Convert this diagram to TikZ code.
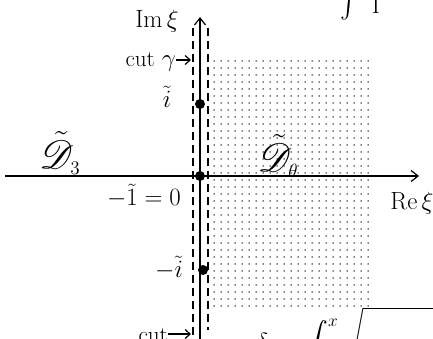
\documentclass[tikz,border=0pt]{standalone}
\usepackage{amsmath,mathrsfs}
\usetikzlibrary{patterns.meta,arrows.meta}
\begin{document}
\begin{tikzpicture}[x=1pt,y=-1pt,
  every node/.style={font=\fontsize{23}{25}\selectfont, inner sep=0pt},
  axis/.style={line width=1.5pt},
  cutline/.style={line width=1.1pt, dash pattern=on 8pt off 5pt},
  pt/.style={circle, fill=black, minimum size=10pt},
  tip/.style={-{Straight Barb[length=7pt,width=11pt,line width=1.2pt]}},
  smalltip/.style={line width=1.2pt,-{Straight Barb[length=5pt,width=9pt]}}]
\useasboundingbox (0,0) rectangle (433,338);
\clip (0,0) rectangle (433,338);
% shaded region
\fill[pattern={Dots[distance=6.5pt,radius=0.8pt]}] (209,57) rectangle (372,310);
% axes
\coordinate (xl) at (5,176);
\coordinate (xr) at (419,176);
\coordinate (yb) at (200,345);
\coordinate (yt) at (200,17);
\draw[axis,tip] (xl) -- (xr);
\draw[axis,tip] (yb) -- (yt);
% cuts
\coordinate (cl1) at (193,28);
\coordinate (cl2) at (193,345);
\coordinate (cr1) at (208,28);
\coordinate (cr2) at (208,330);
\draw[cutline] (cl1) -- (cl2);
\draw[cutline] (cr1) -- (cr2);
% points
\node[pt] (i) at (200,104) {};
\node[pt] (o) at (200,176) {};
\node[pt] (mi) at (203,270) {};
% labels
\node (im) at (157,21) {$\mathrm{Im}\,\xi$};
\node[anchor=base east] (cut1) at (176,66) {cut $\gamma$};
\coordinate (ca1) at (191,60);
\draw[smalltip] (cut1.east |- ca1) -- (ca1);
\node (ilab) at (167,97) {$\tilde{i}$};
\node (d3) at (60,153) {\scalebox{1.6}{$\tilde{\mathscr{D}}_{\scriptscriptstyle 3}$}};
\node (dth) at (278,156) {\scalebox{1.6}{$\tilde{\mathscr{D}}_{\scriptscriptstyle\theta}$}};
\node (zero) at (144,196) {$-\tilde{1}=0$};
\node (re) at (412,203) {$\mathrm{Re}\,\xi$};
\node (milab) at (169,268) {$-\tilde{i}$};
\node[anchor=base east] (cut2) at (168,342) {cut};
\coordinate (ca2) at (191,334);
\draw[smalltip] (cut2.east |- ca2) -- (ca2);
\node[anchor=base] (top) at (360,13) {$\int\;\,\mathrm{I}$};
\node[anchor=base] (dl) at (262,350) {$\delta$};
\node[anchor=base west] (bot) at (303,354) {$\displaystyle\int^{x}\!\sqrt{\vphantom{\int}\hphantom{mmmmmm}}$};
\end{tikzpicture}
\end{document}
